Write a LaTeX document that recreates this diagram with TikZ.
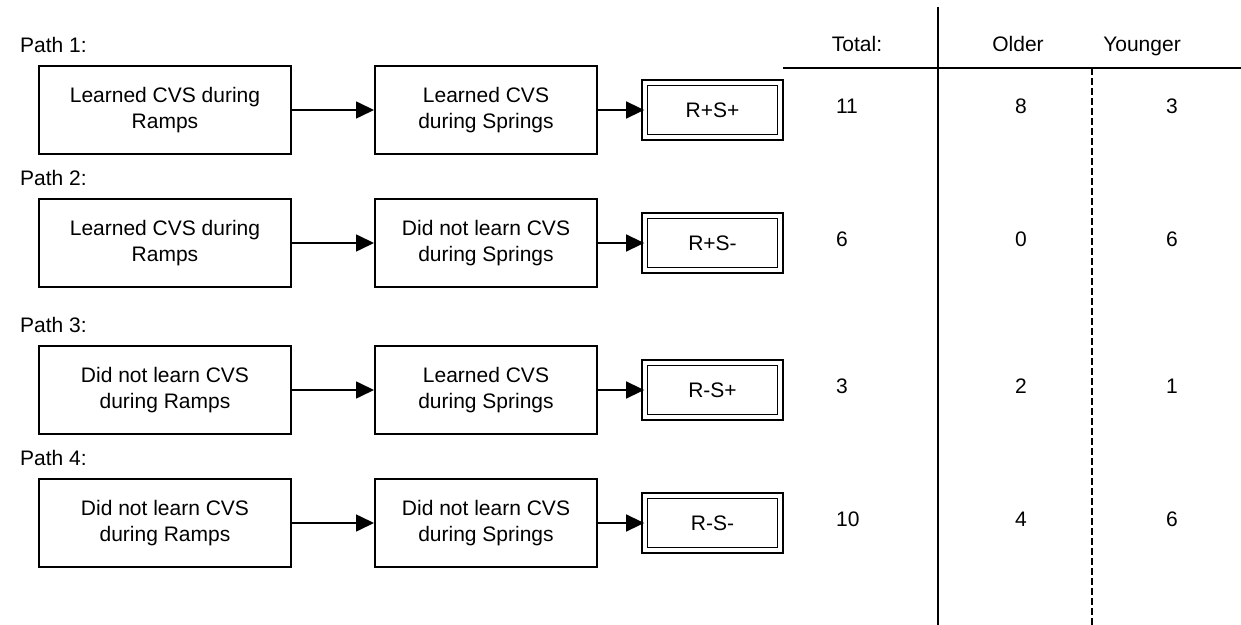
\documentclass[tikz,border=0pt]{standalone}
\usepackage{fontspec}
\setmainfont{Liberation Sans}
\usetikzlibrary{arrows.meta}

\begin{document}
\begin{tikzpicture}[x=.5pt,y=-.5pt,font=\fontsize{10.5}{13.3}\selectfont,
  stage/.style={draw,line width=.65pt,align=center,minimum height=44pt,inner sep=2pt},
  result/.style={draw,double,double distance=2pt,line width=.7pt,minimum width=67.7pt,minimum height=27.2pt,inner sep=1pt},
  flow/.style={-{Triangle[length=9pt,width=8.5pt]},line width=.8pt}]
\useasboundingbox (0,0) rectangle (1241,625);
% table rules
\draw[line width=.6pt] (783,68)--(1241,68);
\draw[line width=.6pt] (938,7)--(938,625);
\draw[line width=.6pt,dash pattern=on 3.5pt off 1.5pt] (1092,68)--(1092,625);
\node[anchor=base] (hTot) at (857,52) {Total:};
\node[anchor=base] (hOld) at (1018,52) {Older};
\node[anchor=base] (hYng) at (1142,52) {Younger};
% one row per path
\foreach \y/\n/\ramps/\springs/\res/\tot/\old/\yng in {
  110/1/{Learned CVS during\\Ramps}/{Learned CVS\\during Springs}/R+S+/11/8/3,
  243/2/{Learned CVS during\\Ramps}/{Did not learn CVS\\during Springs}/R+S-/6/0/6,
  390/3/{Did not learn CVS\\during Ramps}/{Learned CVS\\during Springs}/R-S+/3/2/1,
  523/4/{Did not learn CVS\\during Ramps}/{Did not learn CVS\\during Springs}/R-S-/10/4/6} {
  \node[anchor=west] (path\n) at (13,\y-65) {Path \n:};
  \node[stage,minimum width=126pt] (ramps\n) at (165,\y) {\ramps};
  \node[stage,minimum width=111pt,line width=1pt] (springs\n) at (486,\y) {\springs};
  \node[result] (res\n) at (712.5,\y) {\res};
  \draw[flow] (ramps\n) -- (springs\n);
  \draw[flow] (springs\n) -- (res\n);
  \node[anchor=west] (tot\n) at (829,\y-4) {\tot};
  \node (old\n) at (1021,\y-4) {\old};
  \node (yng\n) at (1172,\y-4) {\yng};}
\end{tikzpicture}
\end{document}
